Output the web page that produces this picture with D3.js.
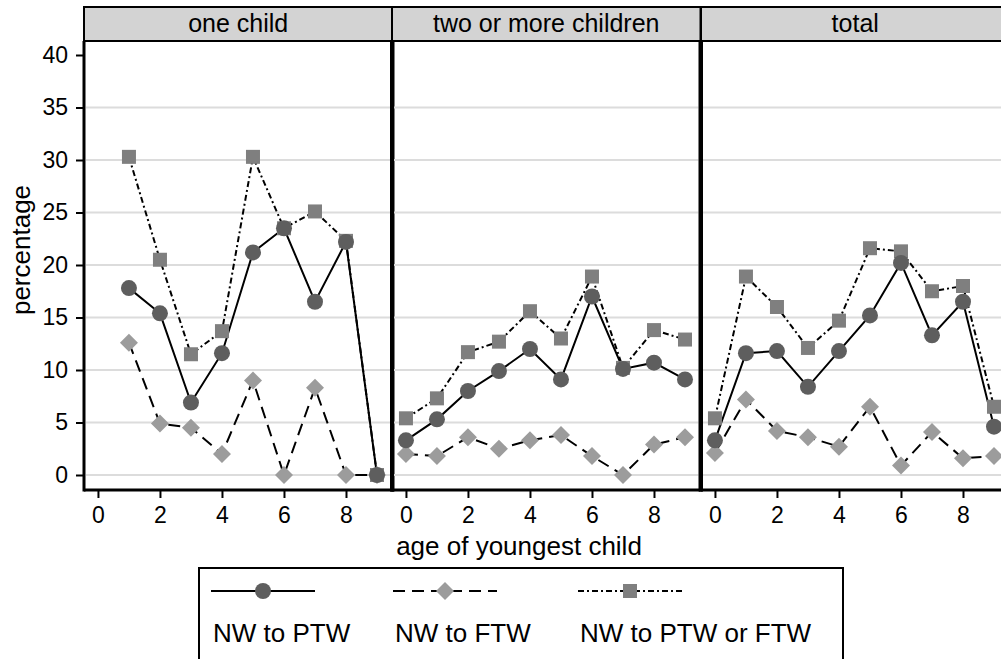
<!doctype html>
<html lang="en">
<head>
  <meta charset="utf-8">
  <script src="https://d3js.org/d3.v7.min.js"></script>
  <style>
    body { margin: 0; background: #fff; }
    text { font-family: "Liberation Sans", Arial, sans-serif; fill: #000; }
  </style>
</head>
<body>
  <script>
    // panels and series
    var panels = ["one child", "two or more children", "total"];
    var seriesNames = ["NW to PTW", "NW to FTW", "NW to PTW or FTW"];
    var xTicks = [0, 2, 4, 6, 8];
    var yTicks = [0, 5, 10, 15, 20, 25, 30, 35, 40];

    // one child: ages 1..9
    var oneAges = [1, 2, 3, 4, 5, 6, 7, 8, 9];
    var onePTW  = [17.8, 15.4, 6.9, 11.6, 21.2, 23.5, 16.5, 22.2, 0];
    var oneFTW  = [12.6, 4.9, 4.5, 2.0, 9.0, 0, 8.3, 0, 0];
    var oneAny  = [30.3, 20.5, 11.5, 13.7, 30.3, 23.5, 25.1, 22.3, 0];

    // two or more children: ages 0..9
    var twoAges = [0, 1, 2, 3, 4, 5, 6, 7, 8, 9];
    var twoPTW  = [3.3, 5.3, 8.0, 9.9, 12.0, 9.1, 17.0, 10.1, 10.7, 9.1];
    var twoFTW  = [2.0, 1.8, 3.6, 2.5, 3.3, 3.8, 1.8, 0, 2.9, 3.6];
    var twoAny  = [5.4, 7.3, 11.7, 12.7, 15.6, 13.0, 18.9, 10.2, 13.8, 12.9];

    // total: ages 0..9
    var totAges = [0, 1, 2, 3, 4, 5, 6, 7, 8, 9];
    var totPTW  = [3.3, 11.6, 11.8, 8.4, 11.8, 15.2, 20.2, 13.3, 16.5, 4.6];
    var totFTW  = [2.1, 7.2, 4.2, 3.6, 2.7, 6.5, 0.9, 4.1, 1.6, 1.8];
    var totAny  = [5.4, 18.9, 16.0, 12.1, 14.7, 21.6, 21.3, 17.5, 18.0, 6.5];

    var panelData = [
      { ages: oneAges, s: [onePTW, oneFTW, oneAny] },
      { ages: twoAges, s: [twoPTW, twoFTW, twoAny] },
      { ages: totAges, s: [totPTW, totFTW, totAny] }
    ];

    var width = 1001, height = 659;
    var panelLeft = [84, 392, 701],
        panelW = 308.5,
        stripTop = 7, plotTop = 41, plotBottom = 490;

    var x = d3.scaleLinear().domain([-0.45, 9.5]).range([0, panelW]);
    var y = d3.scaleLinear().domain([0, 40]).range([475, 55]);

    // style for each series: line dash, marker
    var dashes = [null, "12,7", "6,3,2,3"];
    var fills = ["#5e5e5e", "#9c9c9c", "#7f7f7f"];
    var drawOrder = [2, 1, 0];

    var svg = d3.select("body").append("svg")
        .attr("width", width)
        .attr("height", height);

    function marker(g, k, cx, cy) {
      if (k == 0) {
        g.append("circle").attr("cx", cx).attr("cy", cy).attr("r", 8).attr("fill", fills[0]);
      } else if (k == 1) {
        var r = 9;
        g.append("path")
          .attr("d", "M" + cx + "," + (cy - r) + "L" + (cx + r) + "," + cy + "L" + cx + "," + (cy + r) + "L" + (cx - r) + "," + cy + "Z")
          .attr("fill", fills[1]);
      } else {
        g.append("rect").attr("x", cx - 7).attr("y", cy - 7).attr("width", 14).attr("height", 14).attr("fill", fills[2]);
      }
    }

    panels.forEach(function(name, p) {
      var g = svg.append("g").attr("transform", "translate(" + panelLeft[p] + ",0)");
      var d = panelData[p];

      // strip
      g.append("rect")
        .attr("x", 0).attr("y", stripTop)
        .attr("width", panelW).attr("height", plotTop - stripTop)
        .attr("fill", "#d3d3d3").attr("stroke", "#000").attr("stroke-width", 2);
      g.append("text")
        .attr("x", panelW / 2).attr("y", 32)
        .attr("text-anchor", "middle")
        .style("font-size", "25px")
        .text(name);

      // gridlines
      g.selectAll(".grid")
        .data(yTicks.filter(function(v) { return v < 40; }))
        .enter().append("line")
          .attr("x1", 2).attr("x2", panelW - 2)
          .attr("y1", function(v) { return y(v); })
          .attr("y2", function(v) { return y(v); })
          .attr("stroke", "#dcdcdc").attr("stroke-width", 2);

      // frame: thick sides, bottom axis
      g.append("line").attr("x1", 0).attr("x2", 0).attr("y1", plotTop).attr("y2", plotBottom + 1.5)
        .attr("stroke", "#000").attr("stroke-width", p == 0 ? 3 : 4);
      g.append("line").attr("x1", panelW).attr("x2", panelW).attr("y1", plotTop).attr("y2", plotBottom + 1.5)
        .attr("stroke", "#000").attr("stroke-width", 4);

      // x axis
      var xAxis = d3.axisBottom(x).tickValues(xTicks).tickSize(8).tickPadding(9).tickFormat(d3.format("d"));
      var ax = g.append("g").attr("transform", "translate(0," + plotBottom + ")").call(xAxis);
      ax.select(".domain").attr("stroke-width", 3).attr("d", "M0,0H" + panelW);
      ax.selectAll(".tick line").attr("stroke-width", 2);
      ax.selectAll("text").style("font-size", "23px").attr("font-family", null);

      // lines
      var clip = "clip" + p;
      g.append("clipPath").attr("id", clip).append("rect")
        .attr("x", 0).attr("y", plotTop).attr("width", panelW).attr("height", plotBottom - plotTop);
      var plot = g.append("g").attr("clip-path", "url(#" + clip + ")");

      drawOrder.forEach(function(k) {
        var line = d3.line()
          .x(function(v, i) { return x(d.ages[i]); })
          .y(function(v) { return y(v); });
        plot.append("path")
          .attr("d", line(d.s[k]))
          .attr("fill", "none")
          .attr("stroke", "#000")
          .attr("stroke-width", 2)
          .attr("stroke-dasharray", dashes[k]);
      });
      drawOrder.forEach(function(k) {
        d.s[k].forEach(function(v, i) { marker(plot, k, x(d.ages[i]), y(v)); });
      });
    });

    // y axis on the first panel
    var yAxis = d3.axisLeft(y).tickValues(yTicks).tickSize(8).tickPadding(8);
    var ay = svg.append("g").attr("transform", "translate(" + panelLeft[0] + ",0)").call(yAxis);
    ay.select(".domain").remove();
    ay.selectAll(".tick line").attr("stroke-width", 2);
    ay.selectAll("text").style("font-size", "23px").attr("font-family", null);

    // axis titles
    svg.append("text")
      .attr("x", 519).attr("y", 555)
      .attr("text-anchor", "middle")
      .style("font-size", "26px")
      .text("age of youngest child");
    svg.append("text")
      .attr("transform", "translate(30,250) rotate(-90)")
      .attr("text-anchor", "middle")
      .style("font-size", "26px")
      .text("percentage");

    // legend
    var legend = svg.append("g");
    legend.append("rect")
      .attr("x", 199).attr("y", 568).attr("width", 644).attr("height", 120)
      .attr("fill", "none").attr("stroke", "#000").attr("stroke-width", 2);
    var legX = [211, 393, 578];
    seriesNames.forEach(function(name, k) {
      legend.append("line")
        .attr("x1", legX[k]).attr("x2", legX[k] + 104)
        .attr("y1", 591).attr("y2", 591)
        .attr("stroke", "#000").attr("stroke-width", 2)
        .attr("stroke-dasharray", dashes[k]);
      marker(legend, k, legX[k] + 52, 591);
      legend.append("text")
        .attr("x", legX[k] + 2).attr("y", 642)
        .style("font-size", "26px")
        .text(name);
    });
  </script>
</body>
</html>
